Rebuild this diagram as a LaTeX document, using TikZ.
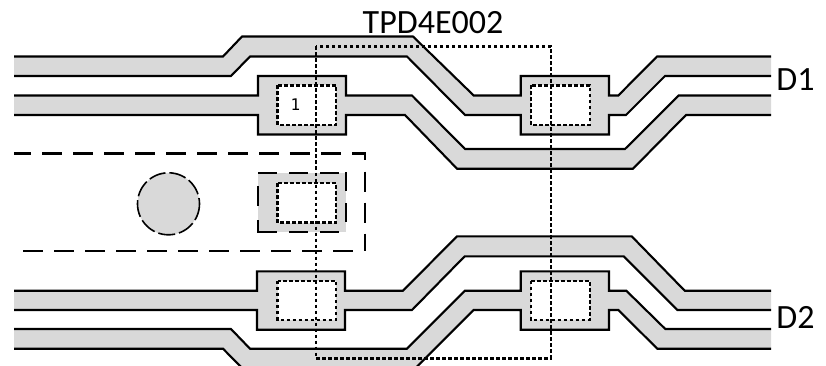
\documentclass[tikz,border=0pt]{standalone}
\usepackage{fontspec}
\setmainfont{Carlito}
\newfontfamily\pinfont{DejaVu Sans Mono}
\tikzset{
  copper/.style={fill=black!15, draw=none},
  edge/.style={draw=black, line width=2.1pt, line join=miter},
  hole/.style={fill=white, draw=black, line width=2.4pt, dash pattern=on 3.5pt off 2.5pt},
  outline/.style={draw=black, line width=2.4pt, dash pattern=on 3.5pt off 2.5pt},
  keepout/.style={draw=black, line width=2.2pt, dash pattern=on 20pt off 11pt},
  padline/.style={draw=black, line width=2.1pt, dash pattern=on 19pt off 12pt},
  label/.style={font=\fontsize{34}{34}\selectfont, inner sep=0pt, anchor=base}
}
\newcommand{\copperrun}[2]{%
  \fill[copper] #1 -- #2 -- cycle;
  \draw[edge] #1;
  \draw[edge] #2;
}
\begin{document}
\begin{tikzpicture}[x=1pt,y=-1pt]
    \useasboundingbox (0,0) rectangle (826,366);
    \clip (0,0) rectangle (826,366);

    % D1 pair
    \copperrun{(14,56.5) -- (223,56.5) -- (242,36.5) -- (413,36.5) -- (473.7,95.5) -- (520.7,95.5) -- (520.7,76) -- (609,76) -- (609,95.5) -- (618.3,95.5) -- (657,56.5) -- (771,56.5)}
              {(771,76) -- (665,76) -- (626,115) -- (609,115) -- (609,134.5) -- (520.7,134.5) -- (520.7,115) -- (465,115) -- (407,56.5) -- (250,56.5) -- (231,76) -- (14,76)}
    \copperrun{(14,95.5) -- (258,95.5) -- (258,76) -- (346,76) -- (346,95.5) -- (412,95.5) -- (465,149) -- (625,149) -- (678.7,95.5) -- (771,95.5)}
              {(771,115) -- (686,115) -- (633,168.7) -- (457,168.7) -- (405,115) -- (346,115) -- (346,134.5) -- (258,134.5) -- (258,115) -- (14,115)}

    % D2 pair
    \copperrun{(14,290.7) -- (257,290.7) -- (257,271.3) -- (345,271.3) -- (345,290.7) -- (403,290.7) -- (457,236.3) -- (631.7,236.3) -- (684.7,290.7) -- (771,290.7)}
              {(771,310) -- (677.3,310) -- (623.7,256.3) -- (464.7,256.3) -- (412,310) -- (345,310) -- (345,329.7) -- (257,329.7) -- (257,310) -- (14,310)}
    \copperrun{(14,329) -- (231,329) -- (250,348.7) -- (407,348.7) -- (465,290.7) -- (520.7,290.7) -- (520.7,271.3) -- (609,271.3) -- (609,290.7) -- (626.3,290.7) -- (665.3,329) -- (771,329)}
              {(771,348.7) -- (657.3,348.7) -- (618.3,310) -- (609,310) -- (609,329.7) -- (520.7,329.7) -- (520.7,310) -- (473.7,310) -- (415.7,368) -- (242,368) -- (223,348.7) -- (14,348.7)}

    % ground pad and via
    \fill[copper] (258,173) rectangle (346,231.7);
    \draw[padline] (258,173) -- (346,173);
    \draw[padline] (346,172) -- (346,231.7);
    \draw[padline] (258,231.7) -- (346,231.7);
    \draw[padline, dash pattern=on 20pt off 14pt] (258,186) -- (258,232.7);
    \fill[copper] (168.5,203.8) circle (31);
    \draw[draw=black, line width=1.6pt, dash pattern=on 17pt off 4pt] (168.5,203.8) circle (31);
    \draw[keepout, dash phase=3pt] (14,153.5) -- (365,153.5) -- (365,250.7);
    \draw[keepout] (23.3,250.7) -- (360,250.7);

    % pad openings
    \draw[hole] (277.5,85.5) rectangle (336,125);
    \draw[hole] (530.7,85.5) rectangle (589.7,125);
    \draw[hole] (277.5,183) rectangle (336,222.5);
    \draw[hole] (277.5,280.7) rectangle (336,319.7);
    \draw[hole] (530.7,280.7) rectangle (589.7,319.7);

    % device body
    \draw[outline] (316,46.5) rectangle (550.7,358.3);

    % labels
    \node (part) [label] at (433,33.5) {TPD4E002};
    \node (done) [label] at (795.5,90.7) {D1};
    \node (dtwo) [label] at (795.5,328.3) {D2};
    \node (pin) [inner sep=0pt, font=\pinfont\fontsize{16}{16}\selectfont] at (295.5,105) {1};
  \end{tikzpicture}
\end{document}
